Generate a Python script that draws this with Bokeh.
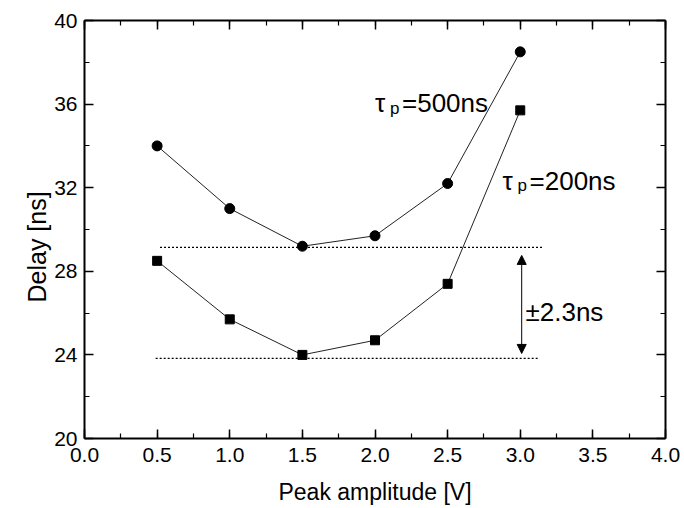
from bokeh.plotting import figure
from bokeh.models import (Range1d, LinearAxis, SingleIntervalTicker, PrintfTickFormatter,
                          CustomJSTickFormatter, Arrow, NormalHead, Title)
from bokeh.core.properties import value
from bokeh.embed import file_html
from bokeh.resources import INLINE

# ---- data ----
amplitude = [0.5, 1.0, 1.5, 2.0, 2.5, 3.0]
delay_500 = [34.0, 31.0, 29.2, 29.7, 32.2, 38.5]
delay_200 = [28.5, 25.7, 24.0, 24.7, 27.4, 35.7]

upper_ref_x = [0.52, 3.15]
upper_ref_y = [29.14, 29.14]
lower_ref_x = [0.49, 3.12]
lower_ref_y = [23.83, 23.83]

arrow_x = 3.01
arrow_y_top = 28.76
arrow_y_bottom = 24.07

label_500 = (2.0, 36.03)
label_200 = (2.878, 32.34)
label_spread = (3.036, 26.03)
spread_text = "\u00b12.3ns"

y_title = "Delay [ns]"
x_title = "Peak amplitude [V]"

FONT = "Liberation Sans"

p = figure(frame_width=581, frame_height=418,
           min_border_left=84, min_border_right=19, min_border_top=20, min_border_bottom=68,
           x_range=Range1d(0, 4), y_range=Range1d(20, 40),
           output_backend="svg", toolbar_location=None)
p.grid.visible = False
p.outline_line_color = None
p.background_fill_color = "white"
p.border_fill_color = "white"

xt = SingleIntervalTicker(interval=0.5, num_minor_ticks=2)
yt = SingleIntervalTicker(interval=4, num_minor_ticks=2)


def style_axis(ax):
    ax.axis_line_width = 2
    ax.axis_line_color = "black"
    ax.major_tick_in = 9
    ax.major_tick_out = 0
    ax.minor_tick_in = 5
    ax.minor_tick_out = 0
    ax.major_tick_line_width = 1.5
    ax.minor_tick_line_width = 1.2
    ax.major_tick_line_color = "black"
    ax.minor_tick_line_color = "black"
    ax.major_label_text_font = FONT
    ax.major_label_text_color = "black"
    ax.major_label_text_font_size = "21px"
    ax.axis_label_text_font = FONT
    ax.axis_label_text_font_style = "normal"
    ax.axis_label_text_color = "black"


xa = p.xaxis[0]
xa.ticker = xt
xa.formatter = PrintfTickFormatter(format="%.1f")
xa.axis_label = x_title
xa.major_label_standoff = 9
xa.axis_label_standoff = 14
style_axis(xa)
xa.axis_label_text_font_size = "23px"

ya = p.yaxis[0]
ya.ticker = yt
ya.major_label_standoff = 7
style_axis(ya)

p.add_layout(Title(text=y_title, align="left", offset=136, standoff=2,
                   text_font=FONT, text_font_size="25px", text_font_style="normal",
                   text_color="black"), "left")

blank = CustomJSTickFormatter(code="return ''")
top = LinearAxis(ticker=SingleIntervalTicker(interval=0.5, num_minor_ticks=2), formatter=blank)
style_axis(top)
top.major_label_standoff = 0
p.add_layout(top, "above")
right = LinearAxis(ticker=SingleIntervalTicker(interval=4, num_minor_ticks=2), formatter=blank)
style_axis(right)
right.major_label_standoff = 0
p.add_layout(right, "right")

# reference dotted lines
p.line(upper_ref_x, upper_ref_y, line_color="black", line_width=1.2, line_dash="2 2")
p.line(lower_ref_x, lower_ref_y, line_color="black", line_width=1.2, line_dash="2 2")

# series
p.line(amplitude, delay_500, line_color="#222222", line_width=1)
p.scatter(amplitude, delay_500, marker="circle", size=10, fill_color="black", line_color="black")
p.line(amplitude, delay_200, line_color="#222222", line_width=1)
p.scatter(amplitude, delay_200, marker="square", size=9, fill_color="black", line_color="black")

# double arrow
p.add_layout(Arrow(x_start=arrow_x, y_start=arrow_y_bottom, x_end=arrow_x, y_end=arrow_y_top,
                   line_color="black", line_width=1,
                   start=NormalHead(size=9, fill_color="black", line_color="black"),
                   end=NormalHead(size=9, fill_color="black", line_color="black")))


def tau_label(pos, rest):
    x, y = pos
    p.text([x], [y], text=["\u03c4"], text_font=value(FONT), text_font_size="26px",
           text_baseline="alphabetic", text_align="left", text_color="black")
    p.text([x], [y], text=["p"], text_font=value(FONT), text_font_size="17px",
           text_baseline="alphabetic", text_align="left", text_color="black",
           x_offset=15, y_offset=5)
    p.text([x], [y], text=[rest], text_font=value(FONT), text_font_size="26px",
           text_baseline="alphabetic", text_align="left", text_color="black",
           x_offset=27)


tau_label(label_500, "=500ns")
tau_label(label_200, "=200ns")
p.text([label_spread[0]], [label_spread[1]], text=[spread_text], text_font=value(FONT),
       text_font_size="26px", text_baseline="alphabetic", text_align="left", text_color="black")

open("out.html", "w").write(file_html(p, INLINE))
